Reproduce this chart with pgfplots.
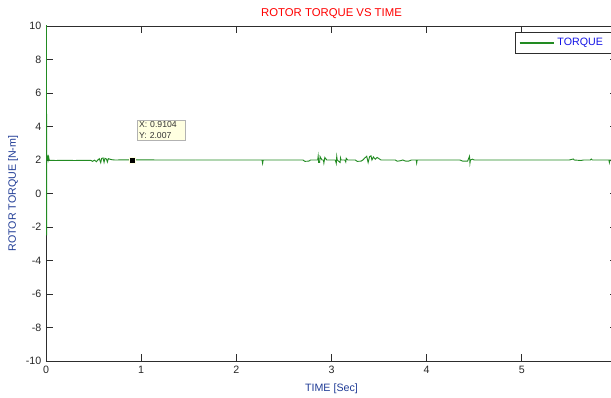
\documentclass[border=0pt]{standalone}
\usepackage{fontspec}
\setmainfont{Liberation Sans}
\usepackage{pgfplots}
\pgfplotsset{compat=1.18}
\definecolor{torq}{RGB}{34,139,34}
\definecolor{axgray}{RGB}{45,45,45}
\definecolor{lblue}{RGB}{32,60,150}
\definecolor{legblue}{RGB}{20,20,230}
\definecolor{tipbg}{RGB}{255,255,225}
\begin{document}
\begin{tikzpicture}
\begin{axis}[
  name=ax,
  scale only axis, width=428.25pt, height=251.25pt,
  xmin=0, xmax=6, ymin=-10, ymax=10,
  xtick={0,1,2,3,4,5}, ytick={-10,-8,-6,-4,-2,0,2,4,6,8,10},
  extra x ticks={6}, extra x tick labels={},
  axis line style={axgray, line width=0.6pt},
  tick style={axgray, line width=0.6pt},
  major tick length=5pt,
  tick align=inside,
  ticklabel style={font=\fontsize{8}{9}\selectfont, text=black!85},
  /pgf/number format/assume math mode=true,
  every axis title shift=0pt,
  title={ROTOR TORQUE VS TIME},
  title style={at={(axis description cs:0.5,1.0269)}, anchor=base, font=\fontsize{8.5}{10}\selectfont, text=red, inner sep=0pt},
  xlabel={TIME [Sec]},
  xlabel style={at={(axis description cs:0.5,-0.0896)}, anchor=base, font=\fontsize{8}{9}\selectfont, text=lblue, inner sep=0pt},
  ylabel={ROTOR TORQUE [N-m]},
  ylabel style={at={(axis description cs:-0.0578,0.5)}, anchor=center, font=\fontsize{8}{9}\selectfont, text=lblue, inner sep=0pt},
  legend style={at={(axis cs:4.926,9.642)}, anchor=north west, draw=axgray, fill=white,
    font=\fontsize{8}{9}\selectfont, inner xsep=3pt, inner ysep=2.5pt},
  legend cell align=left,
  legend image code/.code={\draw[draw={rgb,255:red,34;green,139;blue,34}, line width=0.8pt] (0pt,0pt) -- (26pt,0pt);},
]
\addplot[torq, line width=0.7pt] coordinates {
(0.005,16) (0.006,-2.5) (0.007,2.35) (0.009,2.05) (0.012,2.3) (0.015,2.0) (0.019,2.25) (0.023,2.02)
(0.028,2.18) (0.034,2.0) (0.04,1.98) (0.1,1.97) (0.2,1.98) (0.3,1.97) (0.4,1.98) (0.47,1.98)
(0.49,1.92) (0.51,1.99) (0.53,1.9) (0.545,2.0) (0.56,2.08) (0.575,1.84) (0.585,2.1) (0.6,2.12)
(0.61,1.86) (0.62,2.1) (0.635,2.06) (0.645,1.88) (0.655,2.08) (0.67,2.05) (0.69,2.02) (0.72,2.0)
(0.9104,2.007) (1.2,2.0) (1.6,2.0) (2.0,2.0) (2.27,2.0) (2.276,1.8) (2.282,2.0) (2.5,2.0)
(2.7,2.0) (2.72,1.92) (2.76,1.93) (2.78,2.0) (2.855,2.0) (2.86,2.22) (2.865,1.85) (2.875,1.85)
(2.88,2.2) (2.9,2.0) (2.915,2.0) (2.92,1.82) (2.93,2.15) (2.95,2.0) (3.04,2.0) (3.05,1.8)
(3.055,2.2) (3.06,2.0) (3.09,1.85) (3.095,2.12) (3.1,2.0) (3.14,2.0) (3.15,1.88) (3.155,2.1)
(3.17,2.0) (3.25,2.0) (3.27,1.92) (3.31,1.93) (3.33,2.0) (3.35,2.12) (3.37,2.22) (3.385,1.85)
(3.4,2.2) (3.415,2.25) (3.425,2.0) (3.44,2.18) (3.46,2.05) (3.48,2.15) (3.52,2.0) (3.55,2.0)
(3.67,2.0) (3.69,1.93) (3.72,1.95) (3.75,2.0) (3.78,1.93) (3.81,1.93) (3.84,2.0) (3.89,2.0)
(3.895,1.82) (3.9,2.0) (4.3,2.0) (4.35,2.0) (4.38,1.93) (4.43,1.93) (4.45,2.22) (4.455,1.82)
(4.46,2.0) (4.48,2.05) (4.5,2.0) (5.0,2.0) (5.5,2.0) (5.54,2.06) (5.55,2.0) (5.62,1.97)
(5.65,2.0) (5.72,2.0) (5.73,2.06) (5.74,2.0) (5.915,2.0) (5.92,1.85) (5.925,2.0) (6,2.0)
};
\addlegendentry{\makebox[42pt][l]{\color{legblue}TORQUE}}
\addplot[only marks, mark=square*, mark size=2.25pt, mark options={fill=black, draw=tipbg, line width=0.4pt}, forget plot]
  coordinates {(0.9104,2.007)};
\node[draw=black!30, fill=tipbg, anchor=south west, font=\fontsize{6.5}{8}\selectfont, align=left,
  inner sep=1.5pt, text width=33pt, text=black!80, xshift=3.2pt, yshift=14.25pt]
  at (axis cs:0.9104,2.007) {X: 0.9104\\Y: 2.007};
\end{axis}
\pgfresetboundingbox
\path[use as bounding box] ([shift={(-34.5pt,-27.75pt)}]ax.south west) rectangle ([shift={(-4.5pt,19.5pt)}]ax.north east);
\end{tikzpicture}
\end{document}
